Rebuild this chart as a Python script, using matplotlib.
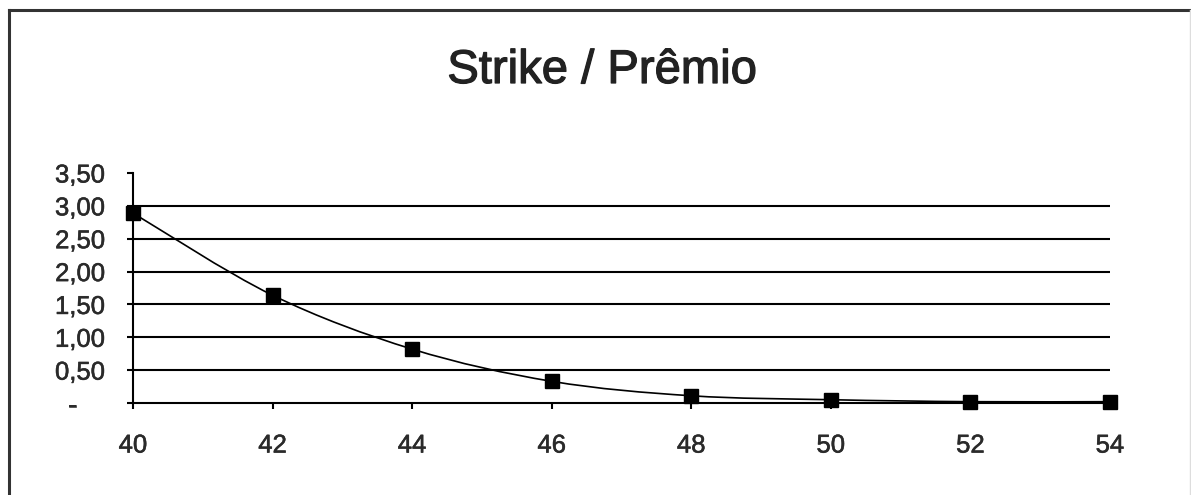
import matplotlib
matplotlib.use("Agg")
import matplotlib.pyplot as plt
import matplotlib.patheffects as pe
from matplotlib.path import Path
from matplotlib.patches import PathPatch
from matplotlib.lines import Line2D
from matplotlib.ticker import FuncFormatter

plt.rcParams["font.family"] = ["Liberation Sans", "DejaVu Sans"]

# strike prices and option premiums
strikes = [40, 42, 44, 46, 48, 50, 52, 54]
premiums = [2.89, 1.64, 0.82, 0.33, 0.11, 0.05, 0.02, 0.02]
y_ticks = [0, 0.5, 1.0, 1.5, 2.0, 2.5, 3.0, 3.5]
title = "Strike / Prêmio"

fig = plt.figure(figsize=(11.91, 4.95), dpi=100)
ax = fig.add_axes([133 / 1191, 92 / 495, 977 / 1191, 230 / 495])

# smoothed line, same style as a spreadsheet "smoothed line" chart
pts = list(zip(strikes, premiums))
verts = [pts[0]]
codes = [Path.MOVETO]
for i in range(len(pts) - 1):
    p0 = pts[max(i - 1, 0)]
    p1 = pts[i]
    p2 = pts[i + 1]
    p3 = pts[min(i + 2, len(pts) - 1)]
    c1 = (p1[0] + (p2[0] - p0[0]) / 6, p1[1] + (p2[1] - p0[1]) / 6)
    c2 = (p2[0] - (p3[0] - p1[0]) / 6, p2[1] - (p3[1] - p1[1]) / 6)
    verts += [c1, c2, p2]
    codes += [Path.CURVE4] * 3
ax.add_patch(PathPatch(Path(verts, codes), fill=False, edgecolor="black",
                       linewidth=1.2, zorder=3, clip_on=False))

ax.plot(strikes, premiums, linestyle="none", marker="s", markersize=10,
        color="black", zorder=4, clip_on=False)

ax.set_xlim(40, 54)
ax.set_ylim(0, 3.5)
ax.set_xticks(strikes)
ax.set_yticks(y_ticks)

def fmt(v, pos):
    if abs(v) < 1e-9:
        return "-    "
    return f"{v:.2f}".replace(".", ",")

ax.yaxis.set_major_formatter(FuncFormatter(fmt))

for v in y_ticks[1:-1]:
    ax.axhline(v, color="black", linewidth=1.5, zorder=1)

for s in ["top", "right"]:
    ax.spines[s].set_visible(False)
for s in ["left", "bottom"]:
    ax.spines[s].set_linewidth(1.5)

ax.tick_params(axis="both", direction="out", length=4, width=1.5,
               labelsize=18.5, colors="black")
ax.tick_params(axis="y", pad=16)
ax.tick_params(axis="x", pad=18)

# slightly heavier text strokes
thick = [pe.withStroke(linewidth=0.4, foreground="#2a2a2a")]
for lab in ax.get_xticklabels() + ax.get_yticklabels():
    lab.set_color("#2a2a2a")
    lab.set_path_effects(thick)

fig.text(602 / 1191, 1 - 71 / 495, title, ha="center", va="center",
         fontsize=34, color="#222222",
         path_effects=[pe.withStroke(linewidth=0.9, foreground="#222222")])

# chart border
fig.add_artist(Line2D([9 / 1191, 9 / 1191], [-0.1, 1 - 10 / 495],
                      color="#333333", linewidth=2.2))
fig.add_artist(Line2D([9 / 1191, 1190 / 1191], [1 - 10 / 495, 1 - 10 / 495],
                      color="#333333", linewidth=2.2))
fig.add_artist(Line2D([1189.5 / 1191, 1189.5 / 1191], [-0.1, 1 - 10 / 495],
                      color="#dddddd", linewidth=1))

fig.savefig("out.png", dpi=100)
